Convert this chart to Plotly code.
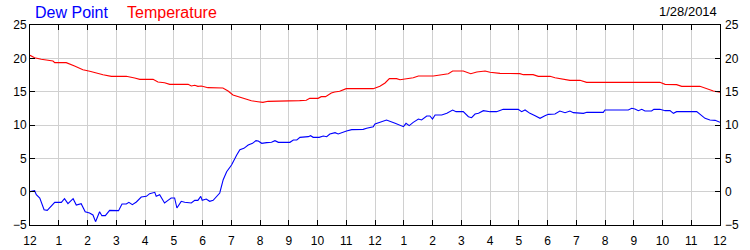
import plotly.graph_objects as go

# ---- data (hours after midnight, degrees C) ----
dew_hours = [0.00, 0.16, 0.22, 0.34, 0.49, 0.60, 0.86, 1.09, 1.20, 1.32, 1.50, 1.61, 1.78, 1.92,
             2.07, 2.19, 2.28, 2.42, 2.50, 2.62, 2.77, 2.94, 3.08, 3.20, 3.35, 3.44, 3.56, 3.70,
             3.87, 4.05, 4.16, 4.34, 4.39, 4.51, 4.68, 4.80, 4.91, 5.03, 5.11, 5.26, 5.38, 5.61,
             5.73, 5.84, 5.94, 5.99, 6.13, 6.25, 6.37, 6.60, 6.72, 6.84, 7.01, 7.19, 7.30, 7.44,
             7.59, 7.74, 7.86, 7.94, 8.06, 8.23, 8.40, 8.52, 8.64, 9.04, 9.16, 9.28, 9.39, 9.68,
             9.76, 9.85, 10.06, 10.20, 10.32, 10.43, 10.61, 10.72, 10.84, 11.01, 11.19, 11.59,
             11.71, 11.94, 12.00, 12.23, 12.40, 12.70, 12.99, 13.08, 13.19, 13.33, 13.51, 13.62,
             13.80, 13.91, 14.00, 14.09, 14.32, 14.50, 14.70, 14.82, 15.07, 15.25, 15.36, 15.48,
             15.60, 15.77, 16.00, 16.23, 16.46, 16.98, 17.10, 17.22, 17.39, 17.57, 17.74, 17.91,
             18.03, 18.26, 18.43, 18.61, 18.78, 18.90, 19.25, 19.37, 19.94, 20.00, 20.81, 20.93,
             21.04, 21.16, 21.28, 21.39, 21.62, 21.70, 21.91, 22.09, 22.26, 22.38, 22.49, 23.19,
             23.36, 23.48, 23.65, 23.83, 24.00]
dew_values = [0.0, 0.15, -0.45, -0.95, -2.7, -2.8, -1.6, -1.6, -1.05, -1.8, -1.05, -2.0, -1.8, -3.0,
              -3.2, -3.5, -4.5, -3.0, -3.6, -3.6, -2.8, -2.85, -2.85, -1.85, -1.85, -1.6, -1.95, -1.55,
              -0.8, -0.7, -0.3, -0.1, -0.7, -0.45, -1.7, -1.3, -0.95, -0.95, -2.45, -1.45, -1.6, -1.7,
              -1.3, -1.3, -0.7, -1.3, -1.1, -1.45, -1.3, -0.2, 1.8, 3.0, 4.0, 5.5, 6.3, 6.5,
              7.0, 7.25, 7.65, 7.6, 7.25, 7.35, 7.4, 7.65, 7.4, 7.4, 7.75, 7.75, 8.15, 8.25,
              8.4, 8.15, 8.15, 8.35, 8.25, 8.65, 8.85, 8.65, 8.85, 9.1, 9.3, 9.35,
              9.5, 9.75, 10.15, 10.5, 10.75, 10.25, 9.75, 10.25, 9.9, 10.4, 10.9, 10.75,
              11.35, 11.35, 10.9, 11.5, 11.5, 11.75, 12.25, 12.0, 12.0, 11.25, 11.1, 11.65,
              11.75, 12.15, 12.0, 12.0, 12.35, 12.35, 12.0, 12.25, 11.75, 11.4, 11.0, 11.4,
              11.6, 11.65, 12.1, 11.85, 12.1, 11.85, 11.75, 11.9, 11.9, 12.25, 12.25, 12.5,
              12.4, 12.15, 12.35, 12.1, 12.1, 12.35, 12.35, 12.15, 12.15, 11.75, 12.0, 12.0,
              11.4, 11.0, 10.75, 10.7, 10.4]

temp_hours = [0.00, 0.16, 0.39, 0.80, 0.86, 1.26, 1.55, 1.84, 2.08, 2.37, 2.54, 2.83, 3.35, 3.64,
              3.82, 4.28, 4.45, 4.68, 4.86, 5.50, 5.61, 5.73, 5.84, 5.96, 6.19, 6.71, 6.89, 7.06,
              7.35, 7.70, 7.93, 8.10, 8.28, 9.26, 9.38, 9.61, 9.73, 10.02, 10.13, 10.28, 10.48,
              10.60, 10.77, 11.00, 11.94, 12.17, 12.35, 12.50, 12.75, 12.87, 13.10, 13.33, 13.51,
              14.03, 14.32, 14.55, 14.70, 15.07, 15.33, 15.54, 15.83, 16.00, 16.35, 17.04, 17.16,
              17.50, 17.68, 18.09, 18.26, 18.49, 18.78, 19.13, 19.36, 21.91, 22.09, 22.49, 22.67,
              23.30, 23.60, 23.77, 24.00]
temp_values = [20.45, 20.1, 19.85, 19.6, 19.35, 19.35, 18.85, 18.3, 18.05, 17.7, 17.55, 17.3, 17.3, 17.05,
               16.85, 16.85, 16.45, 16.35, 16.1, 16.1, 15.85, 15.95, 15.8, 15.85, 15.6, 15.55, 15.1, 14.5,
               14.15, 13.65, 13.5, 13.4, 13.55, 13.55, 13.65, 13.7, 14.0, 14.0, 14.25, 14.25, 14.8,
               14.95, 15.05, 15.45, 15.45, 15.8, 16.3, 16.95, 16.95, 16.8, 16.95, 17.1, 17.35,
               17.35, 17.55, 17.7, 18.1, 18.1, 17.7, 17.95, 18.1, 17.9, 17.75, 17.7, 17.55,
               17.55, 17.3, 17.3, 17.1, 16.95, 16.7, 16.7, 16.4, 16.4, 16.1, 16.05, 15.8,
               15.8, 15.3, 15.1, 14.9]

x_tick_vals = list(range(0, 25))
x_tick_text = ["12", "1", "2", "3", "4", "5", "6", "7", "8", "9", "10", "11",
               "12", "1", "2", "3", "4", "5", "6", "7", "8", "9", "10", "11", "12"]
y_tick_vals = [-5, 0, 5, 10, 15, 20, 25]
date_label = "1/28/2014"

FONT = "Arial, 'Liberation Sans', sans-serif"

fig = go.Figure()
fig.add_trace(go.Scatter(x=dew_hours, y=dew_values, mode="lines",
                         line=dict(color="#0000ff", width=1.1), name="Dew Point", yaxis="y"))
fig.add_trace(go.Scatter(x=temp_hours, y=temp_values, mode="lines",
                         line=dict(color="#ff0000", width=1.1), name="Temperature", yaxis="y2"))

axis_common = dict(showline=True, linecolor="black", linewidth=1, ticks="inside", ticklen=5,
                   tickcolor="black", tickwidth=1, zeroline=False, automargin=False,
                   tickfont=dict(family=FONT, size=12, color="black"))

fig.update_layout(
    width=750, height=250,
    margin=dict(l=30, r=30, t=25, b=25, autoexpand=False),
    paper_bgcolor="white", plot_bgcolor="white",
    showlegend=False,
    xaxis=dict(range=[0, 24], tickmode="array", tickvals=x_tick_vals, ticktext=x_tick_text,
               showgrid=True, gridcolor="#d0d0d0", gridwidth=1, mirror="ticks",
               ticklabelstandoff=5, **axis_common),
    yaxis=dict(range=[-5, 25], tickmode="array", tickvals=y_tick_vals,
               showgrid=True, gridcolor="#d0d0d0", gridwidth=1, mirror="ticks", **axis_common),
    yaxis2=dict(range=[-5, 25], tickmode="array", tickvals=y_tick_vals, overlaying="y",
                side="right", showgrid=False, showline=False, ticks="", zeroline=False,
                automargin=False,
                tickfont=dict(family=FONT, size=12, color="black"), ticklabelstandoff=4),
    annotations=[
        dict(text="Dew Point", xref="paper", yref="paper", x=0.004, y=1.065,
             xanchor="left", yanchor="middle", showarrow=False,
             font=dict(family=FONT, size=16, color="#0000ff")),
        dict(text="Temperature", xref="paper", yref="paper", x=0.1377, y=1.065,
             xanchor="left", yanchor="middle", showarrow=False,
             font=dict(family=FONT, size=16, color="#ff0000")),
        dict(text=date_label, xref="paper", yref="paper", x=0.998, y=1.066,
             xanchor="right", yanchor="middle", showarrow=False,
             font=dict(family=FONT, size=13, color="black")),
    ],
)

fig.write_html("out.html")
